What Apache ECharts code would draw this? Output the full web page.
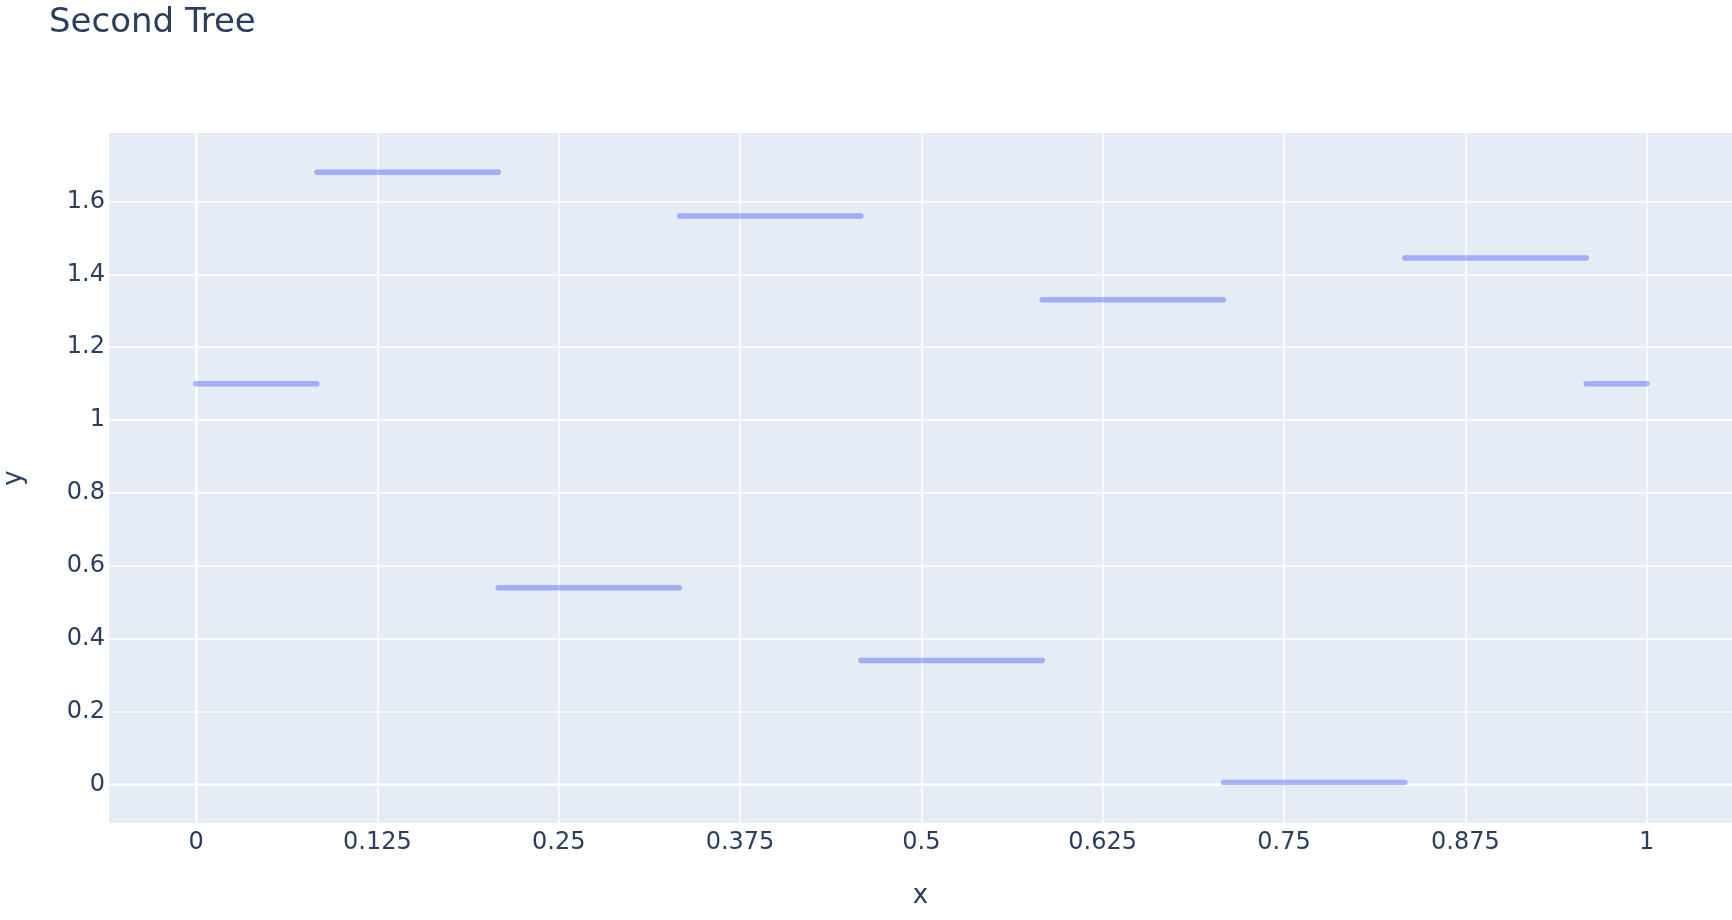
<!DOCTYPE html>
<html>
<head>
<meta charset="utf-8">
<script src="https://cdn.jsdelivr.net/npm/echarts@6/dist/echarts.min.js"></script>
<style>html,body{margin:0;padding:0;background:#fff}#c{width:1732px;height:920px}</style>
</head>
<body>
<div id="c"></div>
<script>
// Step boundaries of the tree (x) and the leaf value on each step (y)
const stepStarts = [0, 0.0833, 0.2083, 0.3333, 0.4583, 0.5833, 0.7083, 0.8333, 0.9583];
const stepEnds   = [0.0833, 0.2083, 0.3333, 0.4583, 0.5833, 0.7083, 0.8333, 0.9583, 1];
const stepValues = [1.10, 1.68, 0.54, 1.56, 0.34, 1.33, 0.005, 1.445, 1.10];
const xTicks = [0, 0.125, 0.25, 0.375, 0.5, 0.625, 0.75, 0.875, 1];
const yTicks = [0, 0.2, 0.4, 0.6, 0.8, 1, 1.2, 1.4, 1.6];

const FONT = 'DejaVu Sans';
const TXT = '#2a3f5f';

const series = stepValues.map((v, i) => ({
  type: 'line',
  data: [[stepStarts[i], v], [stepEnds[i], v]],
  showSymbol: false,
  silent: true,
  lineStyle: { color: 'rgba(99,110,250,0.5)', width: 5.5, cap: 'round' },
  z: 5
}));
series.push({
  type: 'line', data: [], silent: true,
  markLine: {
    silent: true, symbol: ['none', 'none'], label: { show: false },
    lineStyle: { color: '#ffffff', width: 2.5, type: 'solid' },
    data: [{ xAxis: 0 }, { yAxis: 0 }]
  },
  z: 1
});

const chart = echarts.init(document.getElementById('c'));
chart.setOption({
  animation: false,
  backgroundColor: '#ffffff',
  title: {
    text: 'Second Tree', left: 44, top: 1,
    textStyle: { fontFamily: FONT, fontSize: 34, fontWeight: 'normal', color: TXT }
  },
  grid: { left: 109, right: 0, top: 133, bottom: 97, backgroundColor: '#e5ecf6', show: true, borderWidth: 0,
    outerBoundsMode: 'none', containLabel: false },
  xAxis: {
    type: 'value', min: -0.06, max: 1.0588,
    name: 'x', nameLocation: 'middle', nameGap: 60,
    nameTextStyle: { fontFamily: FONT, fontSize: 26, color: TXT },
    axisLine: { show: false }, axisTick: { show: false, customValues: xTicks },
    axisLabel: { customValues: xTicks, fontFamily: FONT, fontSize: 24, color: TXT, margin: 8,
      formatter: v => String(v) },
    splitLine: { show: true, lineStyle: { color: '#ffffff', width: 1.5 } }
  },
  yAxis: {
    type: 'value', min: -0.106, max: 1.788,
    name: 'y', nameLocation: 'middle', nameGap: 82, nameRotate: 90,
    nameTextStyle: { fontFamily: FONT, fontSize: 26, color: TXT },
    axisLine: { show: false }, axisTick: { show: false, customValues: yTicks },
    axisLabel: { customValues: yTicks, fontFamily: FONT, fontSize: 24, color: TXT, margin: 4,
      formatter: v => String(Math.round(v * 10) / 10) },
    splitLine: { show: true, lineStyle: { color: '#ffffff', width: 1.5 } }
  },
  series: series
});
</script>
</body>
</html>
